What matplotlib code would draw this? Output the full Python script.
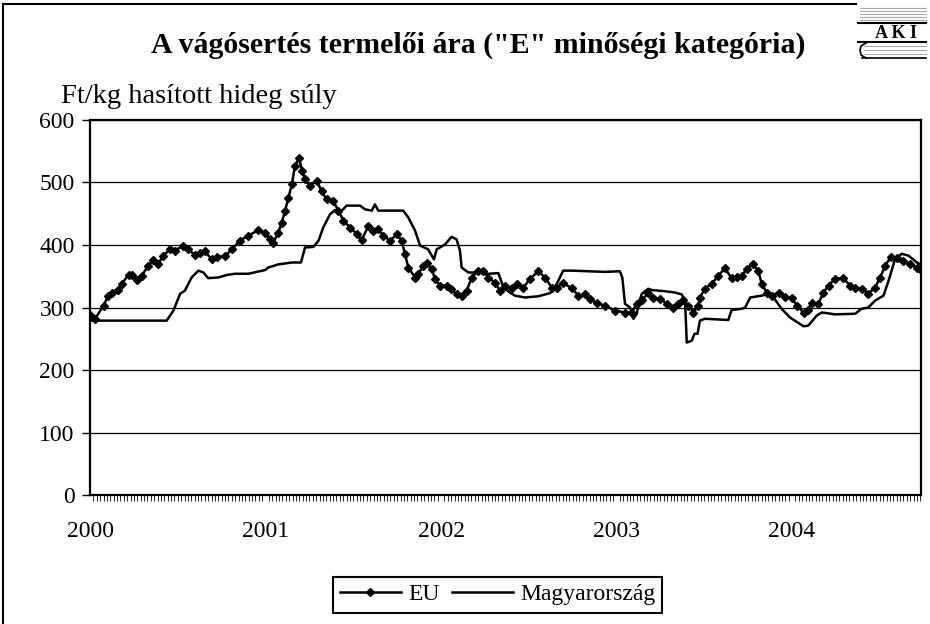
import matplotlib.pyplot as plt
import numpy as np

plt.rcParams['font.family'] = ['Liberation Serif', 'DejaVu Serif']

# weeks counted from the first week of 2000
eu_week = [0, 1.5, 4, 5.4, 6.4, 8.4, 9.4, 11.4, 12.3, 13.8, 15.3, 17.3, 18.8, 20.2, 21.7,
           23.7, 25.2, 27.6, 29.1, 31.1, 32.6, 34.1, 36, 37.5, 40, 42, 44.4, 46.9, 49.9,
           51.9, 53.3, 54.3, 55.8, 56.8, 57.8, 58.8, 59.8, 60.7, 61.9, 62.9, 63.7, 65.2,
           67.2, 68.6, 70.1, 72.1, 73.6, 75.1, 77, 79, 80.5, 82.5, 83.9, 85.4, 86.9, 88.9,
           90.9, 92.3, 93.3, 94.3, 96.3, 97.3, 98.8, 99.7, 101.2, 102.2, 103.7, 105.7,
           107.1, 108.6, 110.1, 111.6, 113.1, 115, 116.5, 118, 120, 121.5, 123, 124.9,
           126.4, 128.4, 130.4, 132.8, 134.8, 136.8, 138.3, 140.2, 142.7, 144.7, 146.7,
           148.1, 150.1, 152.6, 155.6, 158.5, 160.5, 162, 163.5, 165.4, 166.9, 168.9,
           170.9, 172.8, 174.3, 175.8, 177.3, 178.8, 180.2, 180.7, 182.2, 184.2, 186.2,
           188.1, 190.1, 191.6, 193.1, 194.6, 196.3, 198, 199, 200.5, 202, 204, 206,
           207.9, 209.4, 211.4, 212.8, 213.8, 215.8, 217.3, 218.8, 220.7, 223.2, 225.2,
           226.7, 228.6, 230.6, 232.6, 234.1, 235.6, 237.3, 239, 241, 243, 245, 246]
eu_price = [288, 282, 303, 319, 324, 328, 338, 352, 352, 344, 351, 367, 376, 370, 383,
            393, 391, 399, 393, 384, 388, 390, 377, 381, 382, 393, 407, 415, 424,
            420, 409, 404, 420, 436, 455, 476, 497, 526, 539, 518, 505, 494,
            503, 486, 473, 470, 455, 439, 428, 418, 408, 431, 423, 425, 415, 407,
            417, 407, 386, 364, 348, 354, 367, 372, 362, 346, 335, 335,
            330, 321, 319, 327, 348, 359, 359, 348, 340, 326, 334, 332,
            338, 332, 346, 358, 348, 332, 332, 339, 331, 319, 321,
            314, 307, 303, 295, 292, 292, 306, 312, 323, 316, 314,
            306, 300, 305, 312, 303, 292, 303, 316, 330, 338, 351,
            363, 347, 349, 351, 362, 369, 359, 338, 324, 319, 324, 317,
            316, 303, 292, 296, 308, 306, 324, 335, 346, 347, 335,
            332, 330, 322, 332, 348, 367, 381, 379, 375, 370, 364, 362]

hu_week = [0, 22.7, 24.7, 26.7, 28.1, 30.1, 32.1, 33.6, 35, 38, 40.5, 43, 46.9, 51.9,
           52.8, 55.8, 59.8, 62.5, 63.7, 66.2, 67.7, 69.1, 71.1, 72.6, 74.1, 76, 80,
           81.5, 83.5, 84.4, 85.4, 92.8, 94.3, 96.3, 97.8, 100.2, 101.9, 102.7, 105.2,
           107.1, 108.6, 109.6, 110.1, 112.1, 115, 118, 121, 122.5, 124.4, 125.9, 128.9,
           132.8, 136.3, 138.3, 140.2, 142.7, 152.6, 157, 157.7, 158.5, 160, 161, 162,
           162.5, 163.5, 165.4, 166.4, 170.4, 173.3, 175.3, 176.3, 176.8, 178.3, 179.1,
           180, 180.7, 182.2, 189.1, 190.1, 193.1, 194.1, 195.6, 199, 200.5, 202.5,
           204.9, 207.4, 211.4, 212.8, 215.3, 216.8, 218.3, 220.7, 226.7, 228.6, 230.6,
           232.6, 235.1, 236.6, 238.5, 240.5, 242.5, 245, 246]
hu_price = [279, 279, 295, 322, 327, 348, 359, 356, 347, 348, 352, 354, 354, 360,
            364, 369, 372, 372, 396, 397, 407, 428, 449, 456, 452, 463, 463,
            457, 455, 465, 455, 455, 444, 423, 399, 393, 377, 393, 401,
            413, 409, 391, 364, 356, 356, 354, 355, 332, 324, 319, 316,
            318, 323, 338, 359, 359, 357, 358, 348, 306, 300, 282, 290,
            306, 322, 330, 328, 326, 324, 321, 311, 244, 247, 258,
            258, 279, 282, 280, 296, 298, 300, 316, 319, 321, 316,
            298, 284, 270, 271, 287, 292, 291, 289, 290, 298, 300,
            311, 319, 343, 377, 386, 383, 372, 369]

year_labels = ['2000', '2001', '2002', '2003', '2004']
n_weeks = 246.2

fig = plt.figure(figsize=(9.3, 6.24), dpi=100)

# frame and logo drawn in pixel coordinates
bg = fig.add_axes([0, 0, 1, 1], zorder=-1)
bg.set_xlim(0, 930)
bg.set_ylim(624, 0)
bg.axis('off')
bg.plot([3, 3], [4, 624], color='black', lw=1.5)
bg.plot([3, 856], [4, 4], color='black', lw=1.5)
for yy in [8, 11, 14, 17, 20]:
    bg.plot([860, 926], [yy, yy], color='#aaaaaa', lw=0.8)
bg.plot([858, 926], [23, 23], color='black', lw=1.5)
bg.text(896, 33, 'A K I', ha='center', va='center', fontsize=13, fontweight='bold')
bg.plot([858, 926], [42, 42], color='black', lw=1.5)
for yy in [46, 50, 54]:
    bg.plot([864, 926], [yy, yy], color='#aaaaaa', lw=0.8)
bg.plot([862, 926], [58, 58], color='black', lw=1.2)
bg.plot([866, 861, 860, 861, 866], [43, 46, 50, 55, 58], color='black', lw=1.2)

fig.text(0.514, 0.928, 'A vágósertés termelői ára ("E" minőségi kategória)',
         ha='center', va='center', fontsize=21.5, fontweight='bold')
fig.text(0.066, 0.845, 'Ft/kg hasított hideg súly', ha='left', va='center', fontsize=20.5)

ax = fig.add_axes([0.0968, 0.2067, 0.8935, 0.601])
ax.plot(eu_week, eu_price, color='black', lw=1.8, marker='D', markersize=3.6, label='EU')
ax.plot(hu_week, hu_price, color='black', lw=1.8, label='Magyarország')

ax.set_xlim(0, n_weeks)
ax.set_ylim(0, 600)
ax.set_yticks(np.arange(0, 601, 100))
ax.yaxis.grid(True, color='black', lw=0.9)
ax.set_axisbelow(True)
ax.tick_params(axis='y', labelsize=17, length=6, width=1, direction='out', pad=5)

ax.set_xticks([52 * i for i in range(len(year_labels))])
ax.set_xticklabels(year_labels)
ax.set_xticks(np.arange(0, n_weeks, 1), minor=True)
ax.tick_params(axis='x', which='major', labelsize=17, length=0, pad=19)
ax.tick_params(axis='x', which='minor', length=4, width=0.6, direction='out')
for s in ax.spines.values():
    s.set_linewidth(1.6)

leg = fig.legend(loc='center', bbox_to_anchor=(0.535, 0.047), ncol=2, fontsize=17,
                 frameon=True, fancybox=False, edgecolor='black', framealpha=1,
                 handlelength=2.6, columnspacing=0.5, handletextpad=0.3, borderpad=0.3)
leg.get_frame().set_linewidth(1.5)

plt.savefig('out.png', dpi=100)
